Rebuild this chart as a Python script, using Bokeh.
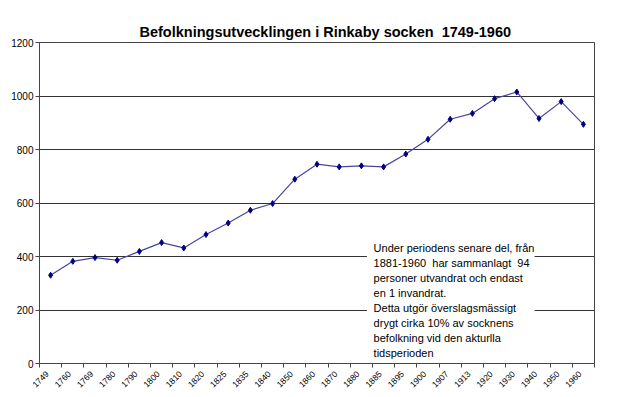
from math import pi
from bokeh.plotting import figure
from bokeh.models import FixedTicker, Range1d, Label, BoxAnnotation
from bokeh.embed import file_html
from bokeh.resources import INLINE

years = ["1749", "1760", "1769", "1780", "1790", "1800", "1810", "1820", "1825",
         "1835", "1840", "1850", "1860", "1870", "1880", "1885", "1895", "1900",
         "1907", "1913", "1920", "1930", "1940", "1950", "1960"]
population = [330, 382, 396, 386, 419, 452, 432, 482, 525, 573, 598, 689, 745,
              735, 739, 735, 783, 838, 913, 935, 990, 1015, 916, 979, 894]
y_ticks = [0, 200, 400, 600, 800, 1000, 1200]
title_text = "Befolkningsutvecklingen i Rinkaby socken\u00a0 1749-1960"
note_text = ("Under periodens senare del, från\n"
             "1881-1960\u00a0 har sammanlagt\u00a0 94\n"
             "personer utvandrat och endast\n"
             "en 1 invandrat.\n"
             "Detta utgör överslagsmässigt\n"
             "drygt cirka 10% av socknens\n"
             "befolkning vid den akturlla\n"
             "tidsperioden")

n = len(years)
xs = [i + 0.5 for i in range(n)]
label_pos = [i + 0.35 for i in range(n)]

p = figure(width=632, height=394, output_backend="svg", toolbar_location=None,
           x_range=Range1d(0, n), y_range=Range1d(0, 1200),
           min_border_left=39, min_border_right=38, min_border_top=42,
           min_border_bottom=31)
p.background_fill_color = "white"
p.border_fill_color = "white"
p.outline_line_color = "#444444"

p.title.text = title_text
p.title.align = "left"
p.title.offset = 100
p.title.standoff = 6
p.title.text_font = "Liberation Sans"
p.title.text_font_size = "14.5px"
p.title.text_font_style = "bold"
p.title.text_color = "black"

# x axis
p.xaxis.ticker = FixedTicker(ticks=label_pos, minor_ticks=list(range(n + 1)))
p.xaxis.major_label_overrides = {x: y for x, y in zip(label_pos, years)}
p.xaxis.major_tick_out = 0
p.xaxis.major_tick_in = 0
p.xaxis.minor_tick_out = 4
p.xaxis.minor_tick_in = 0
p.xaxis.minor_tick_line_color = "#444444"
p.xaxis.major_label_orientation = pi / 4
p.xaxis.major_label_text_font = "Liberation Sans"
p.xaxis.major_label_text_font_size = "8.5px"
p.xaxis.major_label_text_color = "black"
p.xaxis.major_label_standoff = 5
p.xaxis.axis_line_color = "#444444"
p.xgrid.visible = False

# y axis
p.yaxis.ticker = FixedTicker(ticks=y_ticks)
p.yaxis.minor_tick_line_color = None
p.yaxis.major_tick_out = 4
p.yaxis.major_tick_in = 0
p.yaxis.major_tick_line_color = "#444444"
p.yaxis.axis_line_color = "#444444"
p.yaxis.major_label_text_font = "Liberation Sans"
p.yaxis.major_label_text_font_size = "10px"
p.yaxis.major_label_text_color = "black"
p.yaxis.major_label_standoff = 2
p.ygrid.ticker = FixedTicker(ticks=y_ticks)
p.ygrid.grid_line_color = "#333333"
p.ygrid.grid_line_width = 1

p.line(xs, population, line_color="#4646a0", line_width=1.2)
p.scatter(xs, population, marker="diamond", size=6,
          fill_color="#000080", line_color="#000080")

p.add_layout(BoxAnnotation(left=14.75, right=22.3, bottom=40, top=462,
                           fill_color="white", fill_alpha=1.0, line_color=None))
p.add_layout(Label(x=15.05, y=453, text=note_text, text_baseline="top",
                   text_align="left", text_font="Liberation Sans",
                   text_font_size="11px", text_line_height=1.25,
                   text_color="black"))

open("out.html", "w").write(file_html(p, INLINE))
